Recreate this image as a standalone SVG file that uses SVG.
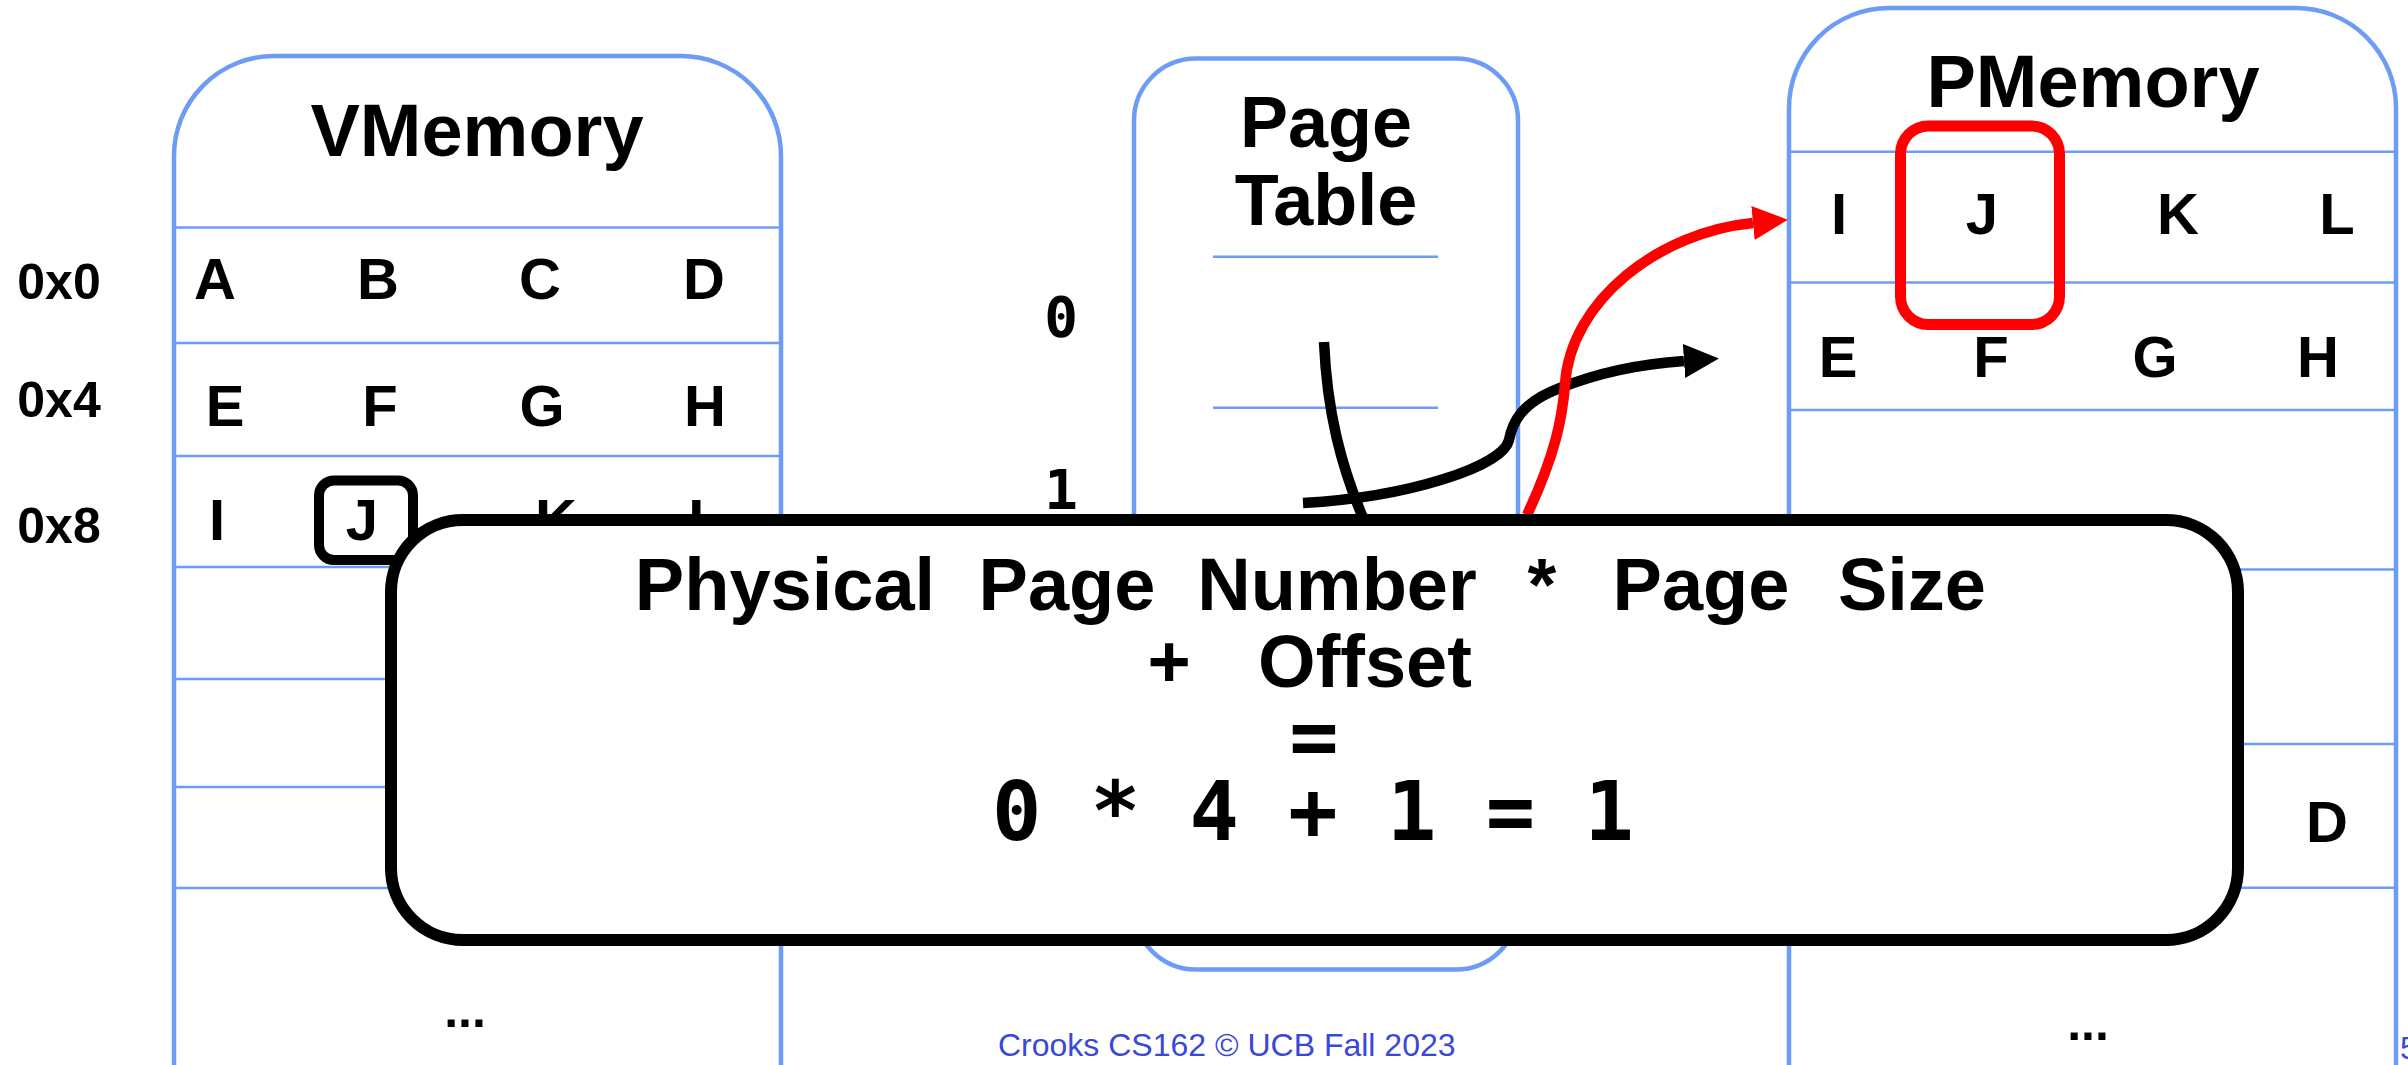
<svg xmlns="http://www.w3.org/2000/svg" width="2408" height="1065" viewBox="0 0 2408 1065">
<style>
.box{fill:none;stroke:#6c9cf6;stroke-width:4.5}
.row{stroke:#6c9cf6;stroke-width:2.5}
.t{font-family:"Liberation Sans",Arial,sans-serif;font-weight:bold;fill:#000}
.title{font-size:74px;text-anchor:middle}
.cell{font-size:58px;text-anchor:middle}
.addr{font-size:50px;text-anchor:middle}
.mono{font-family:"DejaVu Sans Mono",monospace;font-weight:bold;fill:#000;text-anchor:middle}
.big{font-size:74px;text-anchor:middle}
.foot{font-family:"Liberation Sans",Arial,sans-serif;font-size:32px;fill:#3a48d8}
.conn{fill:none;stroke-width:10.5}
</style>
<defs>
<marker id="ahBlack" markerUnits="userSpaceOnUse" markerWidth="40" markerHeight="40" refX="0" refY="17" orient="auto" viewBox="0 0 40 34">
<path d="M0,0 L35,17 L0,34 Z" fill="#000"/>
</marker>
<marker id="ahRed" markerUnits="userSpaceOnUse" markerWidth="40" markerHeight="40" refX="0" refY="17" orient="auto" viewBox="0 0 40 34">
<path d="M0,0 L35,17 L0,34 Z" fill="#ff0000"/>
</marker>
</defs>
<rect width="2408" height="1065" fill="#fff"/>

<g id="address-labels">
<text class="t addr" x="59" y="299">0x0</text>
<text class="t addr" x="59" y="417">0x4</text>
<text class="t addr" x="59" y="543">0x8</text>
</g>

<g id="vmemory">
<path class="box" d="M174,1080 V156 A100,100 0 0 1 274,56 H681 A100,100 0 0 1 781,156 V1080"/>
<line class="row" x1="174" y1="227.5" x2="781" y2="227.5"/>
<line class="row" x1="174" y1="343" x2="781" y2="343"/>
<line class="row" x1="174" y1="456" x2="781" y2="456"/>
<line class="row" x1="174" y1="567" x2="781" y2="567"/>
<line class="row" x1="174" y1="679" x2="781" y2="679"/>
<line class="row" x1="174" y1="787" x2="781" y2="787"/>
<line class="row" x1="174" y1="888" x2="781" y2="888"/>
<text class="t title" x="477" y="156">VMemory</text>
<text class="t cell" x="215" y="299">A</text>
<text class="t cell" x="378" y="299">B</text>
<text class="t cell" x="540" y="299">C</text>
<text class="t cell" x="704" y="299">D</text>
<text class="t cell" x="225" y="426">E</text>
<text class="t cell" x="380" y="426">F</text>
<text class="t cell" x="542" y="426">G</text>
<text class="t cell" x="705" y="426">H</text>
<text class="t cell" x="217" y="540">I</text>
<text class="t cell" x="362" y="540">J</text>
<text class="t cell" x="556" y="540">K</text>
<text class="t cell" x="706" y="540">L</text>
<text class="t cell" x="465" y="1027" style="font-size:50px">...</text>
<rect x="319" y="480.5" width="94" height="79.5" rx="15" fill="none" stroke="#000" stroke-width="10"/>
</g>

<g id="page-table">
<rect class="box" x="1134" y="58.6" width="384" height="911" rx="62"/>
<line class="row" x1="1213" y1="256.7" x2="1438" y2="256.7"/>
<line class="row" x1="1213" y1="407.7" x2="1438" y2="407.7"/>
<text class="t title" x="1326" y="147" style="font-size:72px">Page</text>
<text class="t title" x="1326" y="225" style="font-size:72px">Table</text>
<text class="mono" x="1061" y="336" font-size="56">0</text>
<text class="mono" x="1061" y="509" font-size="56">1</text>
</g>

<g id="pmemory">
<path class="box" d="M1789,1080 V108 A100,100 0 0 1 1889,8 H2296 A100,100 0 0 1 2396,108 V1080"/>
<line class="row" x1="1789" y1="151.7" x2="2396" y2="151.7"/>
<line class="row" x1="1789" y1="282.5" x2="2396" y2="282.5"/>
<line class="row" x1="1789" y1="410" x2="2396" y2="410"/>
<line class="row" x1="1789" y1="569.5" x2="2396" y2="569.5"/>
<line class="row" x1="1789" y1="744" x2="2396" y2="744"/>
<line class="row" x1="1789" y1="887.7" x2="2396" y2="887.7"/>
<text class="t title" x="2093" y="107">PMemory</text>
<text class="t cell" x="1839" y="234">I</text>
<text class="t cell" x="1982" y="234">J</text>
<text class="t cell" x="2178" y="234">K</text>
<text class="t cell" x="2337" y="234">L</text>
<text class="t cell" x="1838" y="377">E</text>
<text class="t cell" x="1991" y="377">F</text>
<text class="t cell" x="2155" y="377">G</text>
<text class="t cell" x="2318" y="377">H</text>
<text class="t cell" x="2327" y="842">D</text>
<text class="t cell" x="2088" y="1040" style="font-size:50px">...</text>
<rect x="1900.5" y="126" width="159" height="198.5" rx="28" fill="none" stroke="#ff0000" stroke-width="11"/>
</g>

<g id="connectors">
<path class="conn" stroke="#000" d="M1324,342 C1327,410 1340,465 1366,525"/>
<path class="conn" stroke="#000" marker-end="url(#ahBlack)" d="M1303,503 C1410,497 1503,466 1509,440 C1512,424 1520,403 1560,388 C1600,372 1640,364 1684,361"/>
<path class="conn" stroke="#ff0000" marker-end="url(#ahRed)" d="M1527,515 C1555,455 1562,420 1565,385 C1570,300 1660,232 1753,223"/>
</g>

<g id="formula">
<rect x="391" y="520" width="1847" height="420" rx="72" fill="#fff" stroke="#000" stroke-width="12"/>
<text class="t big" x="785" y="610">Physical</text>
<text class="t big" x="1067" y="610">Page</text>
<text class="t big" x="1337" y="610">Number</text>
<text class="t big" x="1542" y="610">*</text>
<text class="t big" x="1701" y="610">Page</text>
<text class="t big" x="1912" y="610">Size</text>
<text class="t big" x="1169" y="687">+</text>
<text class="t big" x="1365" y="687">Offset</text>
<text class="mono" x="1314" y="765" font-size="82">=</text>
<text class="mono" x="1313" y="840" font-size="82">0 * 4 + 1 = 1</text>
</g>

<g id="footer">
<text class="foot" x="998" y="1056">Crooks CS162 © UCB Fall 2023</text>
<text class="foot" x="2400" y="1059">5</text>
</g>
</svg>
